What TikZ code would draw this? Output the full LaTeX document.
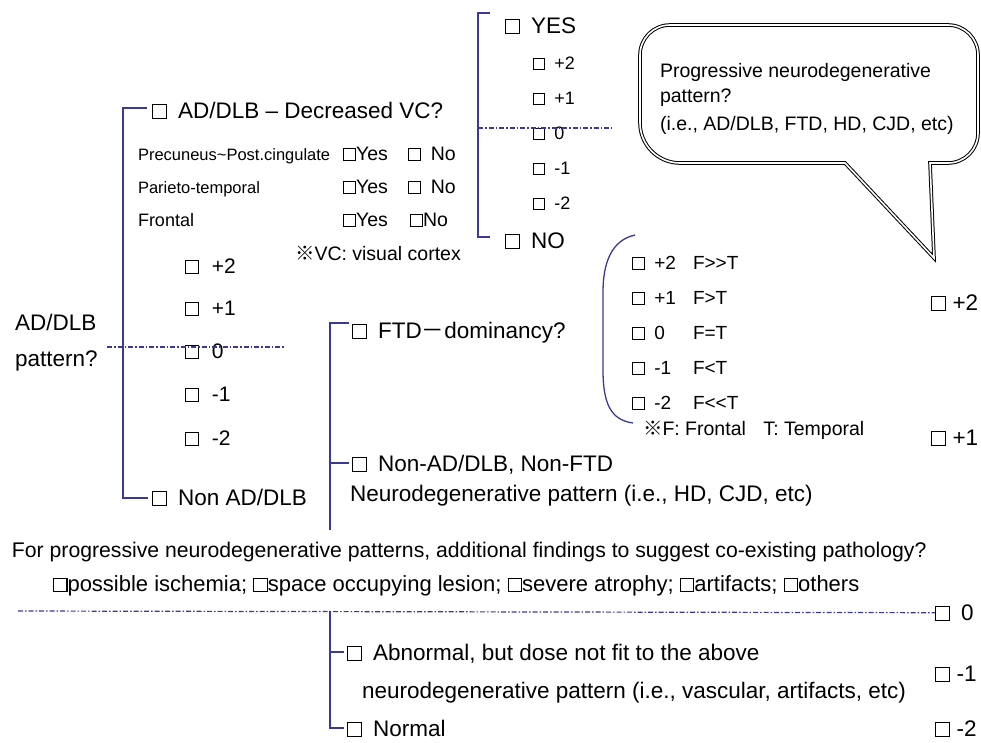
\documentclass[tikz,border=0pt]{standalone}
\usepackage{fontspec}
\setmainfont{Liberation Sans}
\newfontfamily\cjk{Noto Sans CJK JP}
\definecolor{brkc}{HTML}{3A3A96}
\newcommand\bx{{\fboxsep=0pt\fboxrule=1.1pt\fbox{\rule{0pt}{0.56em}\hspace{0.56em}}}}
\newcommand\bs{\hspace{0.5em}}
\begin{document}
\begin{tikzpicture}[x=1pt,y=-1pt,
  lbl/.style={anchor=base west, inner sep=0pt, outer sep=0pt},
  big/.style={font=\fontsize{22.5}{27}\selectfont},
  lst/.style={font=\fontsize{21}{25}\selectfont},
  med/.style={font=\fontsize{19}{23}\selectfont},
  sml/.style={font=\fontsize{16.5}{20}\selectfont},
  yn/.style={font=\fontsize{19.5}{23}\selectfont},
  brk/.style={draw=brkc, line width=1.3pt},
  dd/.style={draw=brkc, line width=1.2pt, dash pattern=on 5pt off 2pt on 1.5pt off 2pt},
  bubble/.style={draw=black, line width=1pt, double=white, double distance=1.6pt}]
\useasboundingbox (0,0) rectangle (981,742);
\clip (0,0) rectangle (981,742);

% ---------- speech bubble ----------
\draw[bubble] (670,25) -- (948,25) .. controls (964.6,25) and (978,38.4) .. (978,55)
  -- (978,133) .. controls (978,149.6) and (964.6,163) .. (948,163)
  -- (930,163) -- (934,258) -- (845,163)
  -- (680,163) .. controls (658,163) and (640,145) .. (640,123)
  -- (640,55) .. controls (640,38.4) and (653.4,25) .. (670,25) -- cycle;
\node[lbl,font=\fontsize{19.5}{23}\selectfont] (bub1) at (660,77) {Progressive neurodegenerative};
\node[lbl,font=\fontsize{19.5}{23}\selectfont] (bub2) at (660,102) {pattern?};
\node[lbl,font=\fontsize{19.5}{23}\selectfont] (bub3) at (660,130) {(i.e., AD/DLB, FTD, HD, CJD, etc)};

% ---------- left block ----------
\node[lbl,big] (adq) at (152,118) {\bx\bs AD/DLB – Decreased VC?};
\node[lbl,sml] (prec) at (138,160) {Precuneus\textasciitilde Post.cingulate};
\node[lbl,yn] (precy) at (343,160) {\bx Yes};
\node[lbl,yn] (precn) at (408,160) {\bx\bs No};
\node[lbl,sml] (pari) at (138,193) {Parieto-temporal};
\node[lbl,yn] (pariy) at (343,193) {\bx Yes};
\node[lbl,yn] (parin) at (408,193) {\bx\bs No};
\node[lbl,font=\fontsize{18}{22}\selectfont] (fron) at (138,226) {Frontal};
\node[lbl,yn] (frony) at (343,226) {\bx Yes};
\node[lbl,yn] (fronn) at (410,226) {\bx No};
\node[lbl,font=\fontsize{19.5}{23}\selectfont] (vcn) at (295,260) {{\cjk ※}VC: visual cortex};

\node[lbl,lst] (l2) at (185,273) {\bx\hspace{0.62em}+2};
\node[lbl,lst] (l1) at (185,315) {\bx\hspace{0.62em}+1};
\node[lbl,lst] (l0) at (185,358) {\bx\hspace{0.62em}0};
\node[lbl,lst] (lm1) at (185,401) {\bx\hspace{0.62em}-1};
\node[lbl,lst] (lm2) at (185,445) {\bx\hspace{0.62em}-2};
\node[lbl,big] (nonad) at (152,505) {\bx\bs Non AD/DLB};
\node[lbl,big] (adp1) at (15,330) {AD/DLB};
\node[lbl,big] (adp2) at (15,366) {pattern?};

\coordinate (lt) at (123,108);
\coordinate (lb) at (123,498);
\draw[brk] ([xshift=-5pt]adq.west |- lt) -- (lt) -- (lb) -- ([xshift=-4pt]nonad.west |- lb);
\draw[dd] (107,347) -- (285,347);

% ---------- YES / NO block ----------
\node[lbl,big] (yes) at (505,33) {\bx\bs YES};
\node[lbl,font=\fontsize{18}{22}\selectfont] (y2) at (533,69) {\bx\bs +2};
\node[lbl,font=\fontsize{18}{22}\selectfont] (y1) at (533,104) {\bx\bs +1};
\node[lbl,font=\fontsize{18}{22}\selectfont] (y0) at (533,139) {\bx\bs 0};
\node[lbl,font=\fontsize{18}{22}\selectfont] (ym1) at (533,174) {\bx\bs -1};
\node[lbl,font=\fontsize{18}{22}\selectfont] (ym2) at (533,209) {\bx\bs -2};
\node[lbl,big] (no) at (505,248) {\bx\bs NO};
\coordinate (yt) at (478,13);
\coordinate (yb) at (478,237);
\draw[brk] (490,13) -- (yt) -- (yb) -- (490,237);
\draw[dd] (478,128) -- (612,128);

% ---------- FTD block ----------
\node[lbl,big] (ftd) at (352,338) {\bx\bs FTD{\cjk －}dominancy?};
\node[lbl,big] (nonftd) at (352,471) {\bx\bs Non-AD/DLB, Non-FTD};
\node[lbl,big] (neuro) at (350,501) {Neurodegenerative pattern (i.e., HD, CJD, etc)};
\coordinate (ft) at (330,323);
\coordinate (fb) at (330,530);
\draw[brk] ([xshift=-3pt]ftd.west |- ft) -- (ft) -- (fb);
\draw[brk] (330,463) -- ([xshift=-3pt]nonftd.west |- 0,463);

\draw[brk] (635,235) .. controls (612,240) and (603,262) .. (603,292) -- (603,370)
  .. controls (603,402) and (610,420) .. (633,423);
\node[lbl,med] (f2) at (632,269) {\bx\bs +2};
\node[lbl,med] (f2t) at (693,269) {F>{}>T};
\node[lbl,med] (f1) at (632,304) {\bx\bs +1};
\node[lbl,med] (f1t) at (693,304) {F>T};
\node[lbl,med] (f0) at (632,339) {\bx\bs 0};
\node[lbl,med] (f0t) at (693,339) {F=T};
\node[lbl,med] (fm1) at (632,374) {\bx\bs -1};
\node[lbl,med] (fm1t) at (693,374) {F<T};
\node[lbl,med] (fm2) at (632,409) {\bx\bs -2};
\node[lbl,med] (fm2t) at (693,409) {F<{}<T};
\node[lbl,font=\fontsize{19.5}{23}\selectfont] (ftn) at (643,435) {{\cjk ※}F: Frontal\hspace{0.9em}T: Temporal};

% ---------- right column ----------
\node[lbl,big] (r2) at (931,310) {\bx\hspace{0.3em}+2};
\node[lbl,big] (r1) at (931,445) {\bx\hspace{0.3em}+1};
\node[lbl,big] (r0) at (935,620) {\bx\bs 0};
\node[lbl,big] (rm1) at (935,681) {\bx\hspace{0.3em}-1};
\node[lbl,big] (rm2) at (935,736) {\bx\hspace{0.3em}-2};

% ---------- bottom block ----------
\node[lbl,font=\fontsize{21.2}{25}\selectfont] (forp) at (12,557) {For progressive neurodegenerative patterns, additional findings to suggest co-existing pathology?};
\node[lbl,font=\fontsize{22}{26}\selectfont] (poss) at (53,591) {\bx possible ischemia; \bx space occupying lesion; \bx severe atrophy; \bx artifacts; \bx others};
\draw[dd] (18,611) -- (r0.west);
\node[lbl,big] (abn) at (347,660) {\bx\bs Abnormal, but dose not fit to the above};
\node[lbl,big] (abn2) at (362,698) {neurodegenerative pattern (i.e., vascular, artifacts, etc)};
\node[lbl,big] (norm) at (347,736) {\bx\bs Normal};
\coordinate (bt) at (330,611);
\coordinate (bb) at (330,728);
\draw[brk] (bt) -- (bb) -- ([xshift=-3pt]norm.west |- bb);
\draw[brk] (330,652) -- ([xshift=-3pt]abn.west |- 0,652);
\end{tikzpicture}
\end{document}
